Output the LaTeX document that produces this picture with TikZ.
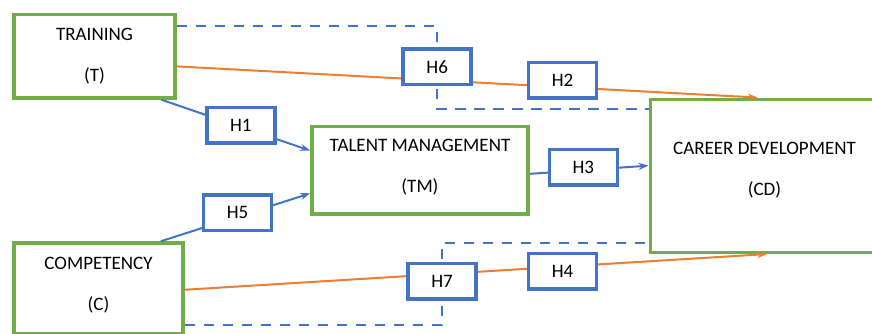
\documentclass[tikz,border=0pt]{standalone}
\usepackage{fontspec}
\setmainfont{Carlito}
\usetikzlibrary{arrows.meta}

\definecolor{vargreen}{RGB}{112,173,71}
\definecolor{hypblue}{RGB}{68,114,196}
\definecolor{pathorange}{RGB}{237,125,49}

\tikzstyle{varbox} = [rectangle, draw=vargreen, line width=3.5pt, fill=white, align=center, inner sep=0pt, font=\fontsize{19}{41}\selectfont]
\tikzstyle{hypbox} = [rectangle, draw=hypblue, line width=3.5pt, fill=white, minimum width=68pt, minimum height=35.5pt, inner sep=0pt, font=\fontsize{19}{23}\selectfont]
\tikzstyle{arrow} = [line width=2pt,->,>={Stealth[length=10pt,width=7pt]}]
\tikzstyle{directlink} = [arrow, draw=pathorange]
\tikzstyle{medlink} = [arrow, draw=hypblue]
\tikzstyle{modlink} = [draw=hypblue, line width=2.25pt, dash pattern=on 10.5pt off 8.5pt]

\begin{document}
\begin{tikzpicture}[x=1pt,y=-1pt]

\useasboundingbox (0,0) rectangle (872,333);
\clip (0,0) rectangle (872,333);

\node (train) [varbox, minimum width=161pt, minimum height=83.3pt] at (94.5,56.3) {TRAINING\\(T)};
\node (talent) [varbox, minimum width=216pt, minimum height=87.5pt, text depth=8.5pt] at (420,170) {TALENT MANAGEMENT\\(TM)};
\node (career) [varbox, minimum width=228.4pt, minimum height=153pt, text depth=14pt] at (764.5,175.8) {CAREER DEVELOPMENT\\(CD)};
\node (comp) [varbox, minimum width=169pt, minimum height=90.5pt, text depth=9pt] at (98.5,288.25) {COMPETENCY\\(C)};

\coordinate (kink6) at (437.2,66.8);
\coordinate (kink7) at (442,281.2);

\draw [modlink] (train.20) -| (kink6) |- (career.150);
\draw [modlink] (comp.-23) -| (kink7) |- (career.210);

\draw [medlink] (train.-33) -- (talent.170);
\draw [medlink] (comp.37) -- (talent.192);
\draw [medlink] (talent.-2) -- (career.175);
\draw [directlink] (train.-7) -- (career.95);
\draw [directlink] (comp.-1) -- (career.-88);

\node (h1) [hypbox] at (240.8,125.3) {H1};
\node (h5) [hypbox] at (237.5,212.5) {H5};
\node (h6) [hypbox] at (kink6) {H6};
\node (h2) [hypbox] at (562.5,80.3) {H2};
\node (h3) [hypbox] at (583.3,167) {H3};
\node (h7) [hypbox] at (kink7) {H7};
\node (h4) [hypbox] at (562.5,271.3) {H4};

\end{tikzpicture}
\end{document}
